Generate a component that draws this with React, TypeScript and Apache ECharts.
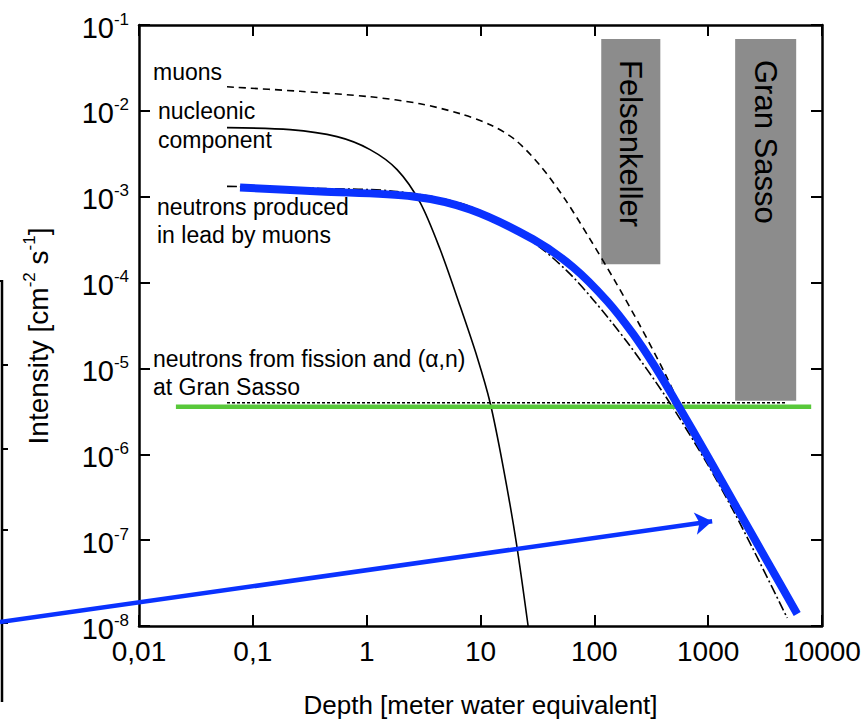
import React, { useEffect, useRef } from 'react';
import * as echarts from 'echarts';

const FONT = '"Liberation Sans", Arial, Helvetica, sans-serif';

// axis tick labels
const xTickLabels = ['0,01', '0,1', '1', '10', '100', '1000', '10000'];

// muons (dashed)
const muonDepth = [0.0593, 0.26, 1.071, 2.945, 6.62, 12.15, 20.1, 33.4, 55.4, 91.9, 152, 253, 419, 695, 1798, 3300, 5256];
const muonFlux = [0.01906, 0.0169, 0.01459, 0.0121, 0.00927, 0.0069, 0.00462, 0.00231, 9.3e-4, 3.19e-4, 1.04e-4, 3.12e-5, 8.65e-6, 2.1e-6, 2.34e-7, 5.68e-8, 1.9e-8];

// nucleonic component (solid)
const nucDepth = [0.0593, 0.2123, 0.549, 1.071, 1.85, 2.945, 4.416, 6.62, 9.335, 12.15, 15.8, 20.55, 26.2];
const nucFlux = [0.00637, 0.00604, 0.00501, 0.00354, 0.00207, 8.59e-4, 2.44e-4, 5.32e-5, 1.36e-5, 3.98e-6, 7.19e-7, 9.7e-8, 1.0e-8];

// neutrons produced in lead by muons (dash-dot)
const leadDepth = [0.0593, 0.39, 1.85, 8.1, 29, 57.7, 97.6, 194, 436, 980, 1659, 2864, 4945];
const leadFlux = [1.32e-3, 1.247e-3, 1.15e-3, 7.7e-4, 2.94e-4, 1.36e-4, 6.32e-5, 2.03e-5, 4.43e-6, 7.8e-7, 2.22e-7, 5.38e-8, 1.24e-8];

// thick blue curve
const blueDepth = [0.0772, 0.3896, 2.557, 8.1, 29, 65.1, 129.6, 219, 342, 534, 980, 1798, 3300, 6055];
const blueFlux = [1.28e-3, 1.15e-3, 1.007e-3, 7.11e-4, 3.19e-4, 1.51e-4, 6.08e-5, 2.52e-5, 1.04e-5, 3.88e-6, 9.67e-7, 2.34e-7, 5.68e-8, 1.38e-8];

// neutrons from fission and (alpha,n) at Gran Sasso (dotted)
const fissionDepth = [0.0593, 4750];
const fissionFlux = [3.98e-6, 3.98e-6];

// green horizontal line
const greenDepth = [0.0211, 8035];
const greenFlux = [3.58e-6, 3.58e-6];

// blue arrow
const arrowDepth = [6.0e-4, 1084];
const arrowFlux = [1.11e-8, 1.66e-7];

// laboratory boxes: [depthFrom, depthTo, fluxBottom, fluxTop]
const boxNames = ['Felsenkeller', 'Gran Sasso'];
const boxRanges = [
  [115, 380, 1.64e-4, 0.0687],
  [1726, 5933, 4.2e-6, 0.0687],
];

const zip = (xs: number[], ys: number[]) => xs.map((x, i) => [x, ys[i]]);

export default function App() {
  const ref = useRef<HTMLDivElement>(null);

  useEffect(() => {
    document.body.style.margin = '0';
    if (!ref.current) return;
    const chart = echarts.init(ref.current, undefined, { renderer: 'svg' });

    const axisLine = { show: true, onZero: false, lineStyle: { color: '#000', width: 2.5 } };
    const axisTick = { show: true, inside: true, length: 11, lineStyle: { color: '#000', width: 2 } };

    const ySupRich = {
      b: { fontSize: 29, lineHeight: 34, fontFamily: FONT, color: '#000' },
      s: { fontSize: 17, lineHeight: 16, verticalAlign: 'top', fontFamily: FONT, color: '#000' },
    };

    const textEl = (text: string, x: number, y: number) => ({
      type: 'text',
      x,
      y,
      z: 50,
      style: { text, fontSize: 23, fontFamily: FONT, fill: '#000', align: 'left', verticalAlign: 'middle' },
    });

    const option: any = {
      animation: false,
      backgroundColor: '#fff',
      textStyle: { fontFamily: FONT },
      grid: { left: 139, right: 44, top: 25, bottom: 95, containLabel: false },
      xAxis: [
        {
          type: 'log',
          logBase: 10,
          min: 0.01,
          max: 10000,
          position: 'bottom',
          axisLine,
          axisTick,
          splitLine: { show: false },
          minorTick: { show: false },
          axisLabel: {
            margin: 11,
            fontSize: 28,
            color: '#000',
            fontFamily: FONT,
            showMinLabel: true,
            showMaxLabel: true,
            formatter: (v: number) => xTickLabels[Math.round(Math.log10(v)) + 2],
          },
          name: 'Depth [meter water equivalent]',
          nameLocation: 'middle',
          nameGap: 66,
          nameTextStyle: { fontSize: 26, color: '#000', fontFamily: FONT },
        },
        {
          type: 'log',
          logBase: 10,
          min: 0.01,
          max: 10000,
          position: 'top',
          axisLine,
          axisTick,
          splitLine: { show: false },
          axisLabel: { show: false },
        },
      ],
      yAxis: [
        {
          type: 'log',
          logBase: 10,
          min: 1e-8,
          max: 0.1,
          position: 'left',
          axisLine,
          axisTick,
          splitLine: { show: false },
          minorTick: { show: false },
          axisLabel: {
            margin: 10,
            padding: [5, 0, 0, 0],
            showMinLabel: true,
            showMaxLabel: true,
            formatter: (v: number) => `{b|10}{s|${Math.round(Math.log10(v))}}`,
            rich: ySupRich,
          },
        },
        {
          type: 'log',
          logBase: 10,
          min: 1e-8,
          max: 0.1,
          position: 'right',
          axisLine,
          axisTick,
          splitLine: { show: false },
          axisLabel: { show: false },
        },
      ],
      graphic: [
        textEl('muons', 153, 72),
        textEl('nucleonic', 158, 111),
        textEl('component', 158, 140),
        textEl('neutrons produced', 157, 207),
        textEl('in lead by muons', 157, 235),
        textEl('neutrons from fission and (α,n)', 153, 359),
        textEl('at Gran Sasso', 153, 387),
        {
          type: 'text',
          x: 38,
          y: 336,
          rotation: Math.PI / 2,
          style: {
            text: '{m|Intensity [cm}{s|-2}{m| s}{s|-1}{m|]}',
            rich: {
              m: { fontSize: 28, lineHeight: 34, fontFamily: FONT, fill: '#000' },
              s: { fontSize: 17, lineHeight: 16, verticalAlign: 'top', fontFamily: FONT, fill: '#000' },
            },
            fill: '#000',
            align: 'center',
            verticalAlign: 'middle',
          },
        },
        // partial frame of a neighbouring figure at the left edge
        { type: 'line', shape: { x1: 2, y1: 280, x2: 2, y2: 702 }, style: { stroke: '#000', lineWidth: 2.5 } },
        { type: 'line', shape: { x1: 0, y1: 281, x2: 3, y2: 281 }, style: { stroke: '#000', lineWidth: 2 } },
        { type: 'line', shape: { x1: 2, y1: 365, x2: 8, y2: 365 }, style: { stroke: '#000', lineWidth: 2 } },
        { type: 'line', shape: { x1: 2, y1: 449, x2: 8, y2: 449 }, style: { stroke: '#000', lineWidth: 2 } },
        { type: 'line', shape: { x1: 2, y1: 530, x2: 8, y2: 530 }, style: { stroke: '#000', lineWidth: 2 } },
        { type: 'line', shape: { x1: 2, y1: 623, x2: 8, y2: 623 }, style: { stroke: '#000', lineWidth: 2 } },
      ],
      series: [
        {
          type: 'custom',
          name: 'labs',
          z: 1,
          encode: { x: [0, 1], y: [2, 3] },
          data: boxRanges,
          renderItem: (params: any, api: any) => {
            const pTL = api.coord([api.value(0), api.value(3)]);
            const pBR = api.coord([api.value(1), api.value(2)]);
            const name = boxNames[params.dataIndex];
            return {
              type: 'group',
              children: [
                {
                  type: 'rect',
                  shape: { x: pTL[0], y: pTL[1], width: pBR[0] - pTL[0], height: pBR[1] - pTL[1] },
                  style: { fill: '#8c8c8c' },
                },
                {
                  type: 'text',
                  x: (pTL[0] + pBR[0]) / 2,
                  y: pTL[1] + 21,
                  rotation: -Math.PI / 2,
                  style: {
                    text: name,
                    fontSize: 31,
                    fontFamily: FONT,
                    fill: '#000',
                    align: 'left',
                    verticalAlign: 'middle',
                  },
                },
              ],
            };
          },
        },
        {
          type: 'line',
          name: 'fission',
          z: 3,
          data: zip(fissionDepth, fissionFlux),
          symbol: 'none',
          lineStyle: { color: '#000', width: 1.5, type: [3, 2] },
        },
        {
          type: 'line',
          name: 'green',
          z: 4,
          data: zip(greenDepth, greenFlux),
          symbol: 'none',
          lineStyle: { color: '#58c83a', width: 4.5 },
        },
        {
          type: 'line',
          name: 'muons',
          z: 3,
          data: zip(muonDepth, muonFlux),
          symbol: 'none',
          smooth: 0.3,
          lineStyle: { color: '#000', width: 1.6, type: [7, 5] },
        },
        {
          type: 'line',
          name: 'nucleonic',
          z: 3,
          data: zip(nucDepth, nucFlux),
          symbol: 'none',
          smooth: 0.3,
          lineStyle: { color: '#000', width: 1.6 },
        },
        {
          type: 'line',
          name: 'lead',
          z: 3,
          data: zip(leadDepth, leadFlux),
          symbol: 'none',
          smooth: 0.3,
          lineStyle: { color: '#000', width: 1.6, type: [10, 3, 2, 3] },
        },
        {
          type: 'line',
          name: 'blue',
          z: 5,
          data: zip(blueDepth, blueFlux),
          symbol: 'none',
          smooth: 0.3,
          lineStyle: { color: '#0a32ff', width: 8 },
        },
        {
          type: 'lines',
          name: 'arrow',
          z: 6,
          coordinateSystem: 'cartesian2d',
          clip: false,
          symbol: ['none', 'arrow'],
          symbolSize: 17,
          lineStyle: { color: '#0a32ff', width: 4.5, opacity: 1, curveness: 0 },
          data: [{ coords: zip(arrowDepth, arrowFlux) }],
        },
      ],
    };

    chart.setOption(option);
    return () => chart.dispose();
  }, []);

  return <div ref={ref} style={{ width: 866, height: 723 }} />;
}
